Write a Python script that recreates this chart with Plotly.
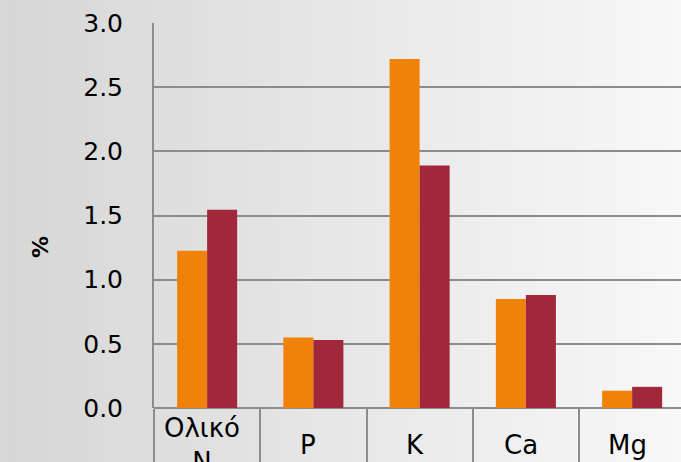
import plotly.graph_objects as go

categories = ["Ολικό<br>N", "P", "K", "Ca", "Mg"]
series_a = [1.225, 0.55, 2.72, 0.85, 0.135]
series_b = [1.545, 0.53, 1.89, 0.88, 0.165]
y_ticks = [0.0, 0.5, 1.0, 1.5, 2.0, 2.5, 3.0]
y_tick_text = ["0.0", "0.5", "1.0", "1.5", "2.0", "2.5", "3.0"]

ORANGE = "#F0820A"
RED = "#A0283A"
GRID = "#8C8C8C"
FONT = "DejaVu Sans"

W, H = 681, 462
ML, MR, MT, MB = 154, 0, 23, 54
PW, PH = W - ML - MR, H - MT - MB

x_idx = list(range(len(categories)))

fig = go.Figure()
fig.add_trace(go.Bar(x=x_idx, y=series_a, marker=dict(color=ORANGE, line=dict(width=0)), showlegend=False))
fig.add_trace(go.Bar(x=x_idx, y=series_b, marker=dict(color=RED, line=dict(width=0)), showlegend=False))

# background gradient (decorative)
shapes = []
n = 60
x_left = -ML / PW
x_right = 1 + MR / PW + 0.01
for i in range(n):
    t = i / (n - 1)
    c = int(215 + (248 - 215) * t)
    x0 = x_left + (x_right - x_left) * i / n
    x1 = x_left + (x_right - x_left) * (i + 1) / n + 0.002
    shapes.append(dict(type="rect", xref="paper", yref="paper", x0=x0, x1=x1,
                       y0=-MB / PH - 0.01, y1=1 + MT / PH + 0.01,
                       fillcolor=f"rgb({c},{c},{c})", line=dict(width=0), layer="below"))

annotations = []
for i, cat in enumerate(categories):
    annotations.append(dict(x=i, y=(408 - 445) / PH, xref="x", yref="paper", text=cat, showarrow=False,
                            xshift=-5, yanchor="middle", xanchor="center",
                            font=dict(family=FONT, size=26, color="#000000")))
annotations.append(dict(x=(40 - ML) / PW, y=(408 - 247) / PH, xref="paper", yref="paper",
                        text="<b>%</b>", textangle=-90, showarrow=False,
                        xanchor="center", yanchor="middle",
                        font=dict(family=FONT, size=22, color="#000000")))

fig.update_layout(
    width=W, height=H,
    margin=dict(l=ML, r=MR, t=MT, b=MB, pad=0),
    paper_bgcolor="#e8e8e8",
    plot_bgcolor="rgba(0,0,0,0)",
    barmode="group", bargap=0.435, bargroupgap=0,
    shapes=shapes, annotations=annotations,
    xaxis=dict(type="linear", range=[-0.5, 4.46], showticklabels=False, automargin=False,
               tickmode="array", tickvals=[i - 0.5 for i in x_idx],
               ticks="outside", ticklen=70, tickwidth=2, tickcolor=GRID,
               showgrid=False, zeroline=False, showline=False),
    yaxis=dict(range=[0, 3], tickmode="array", tickvals=y_ticks, ticktext=y_tick_text,
               automargin=False,
               showgrid=True, gridcolor=GRID, gridwidth=2,
               zeroline=True, zerolinecolor=GRID, zerolinewidth=2,
               showline=True, linecolor=GRID, linewidth=2,
               ticks="outside", ticklen=24, tickcolor="rgba(0,0,0,0)",
               tickfont=dict(family=FONT, size=25, color="#000000")),
)

fig.write_html("out.html")
